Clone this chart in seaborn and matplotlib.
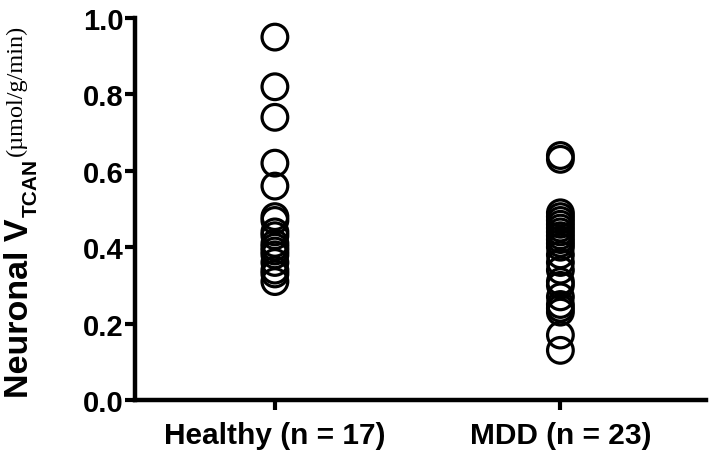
import numpy as np
import pandas as pd
import matplotlib
matplotlib.use("Agg")
import matplotlib.pyplot as plt
import seaborn as sns

# Valores (umol/g/min)
healthy = [0.95, 0.82, 0.74, 0.62, 0.56, 0.48, 0.47, 0.44, 0.43, 0.41,
           0.40, 0.39, 0.38, 0.36, 0.34, 0.33, 0.31]
mdd = [0.64, 0.63, 0.49, 0.48, 0.47, 0.46, 0.45, 0.44, 0.43, 0.42, 0.41,
       0.40, 0.38, 0.36, 0.34, 0.31, 0.30, 0.27, 0.25, 0.24, 0.23, 0.17, 0.13]
groups = ["Healthy (n = 17)", "MDD (n = 23)"]
y_ticks = [0.0, 0.2, 0.4, 0.6, 0.8, 1.0]

df = pd.DataFrame({
    "group": [groups[0]] * len(healthy) + [groups[1]] * len(mdd),
    "vtcan": healthy + mdd,
})

sns.set_style("ticks")
plt.rcParams["font.family"] = ["Liberation Sans", "DejaVu Sans"]
plt.rcParams["text.color"] = "black"
plt.rcParams["xtick.color"] = "black"
plt.rcParams["ytick.color"] = "black"
plt.rcParams["axes.edgecolor"] = "black"

fig = plt.figure(figsize=(7.14, 4.64), dpi=100)
ax = fig.add_axes([135 / 714, 1 - 401 / 464, (706 - 135) / 714, (401 - 19) / 464])

sns.stripplot(data=df, x="group", y="vtcan", order=groups, jitter=False,
              size=18.5, linewidth=2.3, color="black", ax=ax)
for coll in ax.collections:
    coll.set_facecolor("none")
    coll.set_edgecolor("black")

ax.set_ylim(0, 1.0)
ax.set_xlim(-0.49, 1.51)
ax.set_yticks(y_ticks)
ax.set_yticklabels([f"{v:.1f}" for v in y_ticks])
ax.set_xlabel("")
ax.set_ylabel("")

for side in ["left", "bottom"]:
    ax.spines[side].set_linewidth(3.2)
ax.spines["top"].set_visible(False)
ax.spines["right"].set_visible(False)
ax.tick_params(axis="both", length=7, width=3, color="black")
ax.tick_params(axis="y", labelsize=21, pad=1)
ax.tick_params(axis="x", labelsize=21.5, pad=8)
for lab in ax.get_xticklabels() + ax.get_yticklabels():
    lab.set_fontweight("bold")

# Rótulo do eixo y em partes (texto principal, subscrito, unidades em serif)
r = fig.canvas.get_renderer()
t1 = fig.text(4 / 714, 1 - 398 / 464, "Neuronal V", rotation=90, fontsize=24.5,
              fontweight="bold", ha="left", va="bottom")
top1 = t1.get_window_extent(r).y1
t2 = fig.text(22 / 714, (top1 + 1) / 464, "TCAN", rotation=90, fontsize=15,
              fontweight="bold", ha="left", va="bottom")
top2 = t2.get_window_extent(r).y1
fig.text(6 / 714, (top2 + 4) / 464, "(\u00b5mol/g/min)", rotation=90, fontsize=17.5,
         family=["Liberation Serif", "DejaVu Serif"], ha="left", va="bottom")

plt.savefig("out.png", dpi=100)
plt.close()
